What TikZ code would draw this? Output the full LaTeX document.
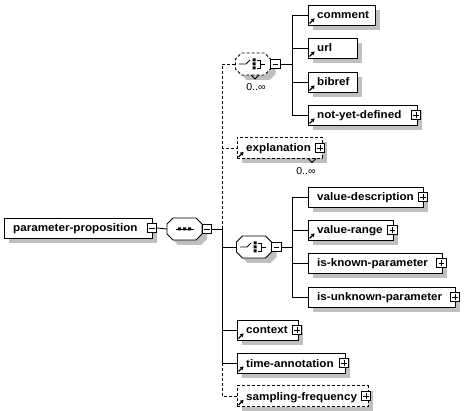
\documentclass[tikz,border=0pt]{standalone}
\usepackage{fontspec}
\setmainfont{Liberation Sans}[FakeStretch=1.06]
\usetikzlibrary{shadows,arrows.meta}
\tikzset{
  ln/.style={line width=0.9pt},
  dsh/.style={dash pattern=on 3pt off 2pt},
  shd/.style={drop shadow={shadow xshift=5pt,shadow yshift=-5pt,fill=black!25,opacity=1}},
  elembox/.style={draw,fill=white,line width=0.9pt,rectangle,inner sep=0pt,minimum height=20pt,shd},
  lbl/.style={font=\bfseries\fontsize{11}{12}\selectfont,inner sep=0pt,anchor=base west},
  pmbox/.style={draw,fill=white,line width=0.8pt,minimum size=9.5pt,inner sep=0pt},
  plusbox/.style={pmbox,path picture={\draw[line width=0.8pt]
      ([xshift=2pt]path picture bounding box.west) -- ([xshift=-2pt]path picture bounding box.east)
      ([yshift=2pt]path picture bounding box.south) -- ([yshift=-2pt]path picture bounding box.north);}},
  minusbox/.style={pmbox,path picture={\draw[line width=0.8pt]
      ([xshift=2pt]path picture bounding box.west) -- ([xshift=-2pt]path picture bounding box.east);}},
  refar/.style={line width=1.1pt,-{Triangle[length=3.2pt,width=4pt]}},
  mult/.style={font=\fontsize{10}{11}\selectfont,inner sep=0pt},
  octfill/.style={fill=white,line width=0.9pt},
}
% #1 name, #2 left, #3 right, #4 center y, #5 text, #6 extra style
\newcommand\elem[6]{%
  \node[elembox,#6,minimum width={(#3)-(#2)}] (#1) at ({((#2)+(#3))/2},#4) {};
  \node[lbl] (#1-t) at ({(#2)+9},{(#4)+4}) {#5};
}
\newcommand\refmark[1]{\draw[refar] ([xshift=2pt,yshift=2pt]#1.south west) -- ++(5,-5);}
\newcommand\plusat[3]{\node[plusbox] (#1-p) at (#2,#3) {};}
\newcommand\octshape{(-11.5,-11) -- (11.5,-11) -- (17.5,-5) -- (17.5,5) -- (11.5,11) -- (-11.5,11) -- (-17.5,5) -- (-17.5,-5) -- cycle}
% #1 name, #2 cx, #3 cy, #4 style
\newcommand\octa[4]{%
  \begin{scope}[shift={(#2,#3)}]
    \fill[black!25] [shift={(5,5)}] \octshape;
    \filldraw[octfill,#4] \octshape;
    \node[inner sep=0pt,minimum width=35pt,minimum height=22pt] (#1) at (0,0) {};
  \end{scope}}
\newcommand\seqsym[2]{%
  \begin{scope}[shift={(#1,#2)}]
    \draw[ln] (-9,0) -- (9,0);
    \fill (-6.5,-1.5) rectangle (-3.5,1.5) (-1.5,-1.5) rectangle (1.5,1.5) (3.5,-1.5) rectangle (6.5,1.5);
  \end{scope}}
\newcommand\chosym[2]{%
  \begin{scope}[shift={(#1,#2)}]
    \draw[ln] (-14,0) -- (-7,0) -- (-3,-4);
    \fill (-0.5,-5.5) rectangle (2.5,-2.5) (-0.5,-1.5) rectangle (2.5,1.5) (-0.5,2.5) rectangle (2.5,5.5);
    \draw[ln] (3.5,-4) -- (7,-4) -- (7,4) -- (3.5,4) (7,0) -- (12,0);
  \end{scope}}
\begin{document}
\begin{tikzpicture}[x=1pt,y=-1pt]
\useasboundingbox[fill=white] (0,0) rectangle (476,411);

% main element
\elem{main}{4}{152}{228}{parameter-proposition}{}
\node[minusbox] (main-m) at (152,228) {};

% sequence
\octa{seq}{184.5}{229}{}
\seqsym{184.5}{229}
\node[minusbox] (seq-m) at (207,229) {};
\draw[ln] (main-m.east) -- (seq.west);

% spine coordinates
\coordinate (s0) at (222,229);
\coordinate (s5) at (222,363);
\draw[ln] (seq-m.east) -- (s0);

% choice 1
\octa{ch1}{253}{64}{dsh}
\chosym{253}{64}
\node[minusbox] (ch1-m) at (275.5,64) {};
\draw[ln] (251,75) -- (255,79) -- (259,75);
\node[mult] (ch1-mult) at (256,87) {0..∞};
\coordinate (c1) at (292,64);
\draw[ln] (ch1-m.east) -- (c1);

\elem{comment}{308}{375}{15}{comment}{}
\refmark{comment}
\elem{url}{308}{357}{48}{url}{}
\refmark{url}
\elem{bibref}{308}{357}{82}{bibref}{}
\refmark{bibref}
\elem{nyd}{308}{417}{115}{not-yet-defined}{}
\refmark{nyd}
\plusat{nyd}{416}{115}
\draw[ln] (c1) |- (comment.west);
\draw[ln] (c1) |- (url.west);
\draw[ln] (c1) |- (bibref.west);
\draw[ln] (c1) |- (nyd.west);

% explanation
\elem{expl}{237}{322}{148}{explanation}{dsh,minimum height=21pt}
\refmark{expl}
\plusat{expl}{320}{148}
\draw[ln] (308,158.5) -- (312,162.5) -- (316,158.5);
\node[mult] (expl-mult) at (306,171) {0..∞};

% choice 2
\octa{ch2}{254}{247}{}
\chosym{254}{247}
\node[minusbox] (ch2-m) at (276.5,247) {};
\coordinate (c2) at (292,247);
\draw[ln] (ch2-m.east) -- (c2);

\elem{vd}{308}{423}{197}{value-description}{}
\plusat{vd}{423}{197}
\elem{vr}{308}{393}{230}{value-range}{}
\refmark{vr}
\plusat{vr}{392.5}{230}
\elem{ikp}{308}{442}{263}{is-known-parameter}{}
\plusat{ikp}{441.5}{263}
\elem{iup}{308}{455}{297}{is-unknown-parameter}{}
\plusat{iup}{455}{297}
\draw[ln] (c2) |- (vd.west);
\draw[ln] (c2) |- (vr.west);
\draw[ln] (c2) |- (ikp.west);
\draw[ln] (c2) |- (iup.west);

% context, time-annotation, sampling-frequency
\elem{ctx}{237}{298}{330}{context}{}
\refmark{ctx}
\plusat{ctx}{297}{330}
\elem{ta}{237}{345}{363}{time-annotation}{}
\refmark{ta}
\plusat{ta}{344}{363}
\elem{sf}{237}{368}{396}{sampling-frequency}{dsh,minimum height=21pt}
\refmark{sf}
\plusat{sf}{366}{396}

% spine
\draw[ln,dsh] (s0) |- (ch1.west);
\draw[ln,dsh] (s0) |- (expl.west);
\draw[ln] (s0) |- (ch2.west);
\draw[ln] (s0) |- (ctx.west);
\draw[ln] (s0) |- (ta.west);
\draw[ln,dsh] (s5) |- (sf.west);
\end{tikzpicture}
\end{document}
